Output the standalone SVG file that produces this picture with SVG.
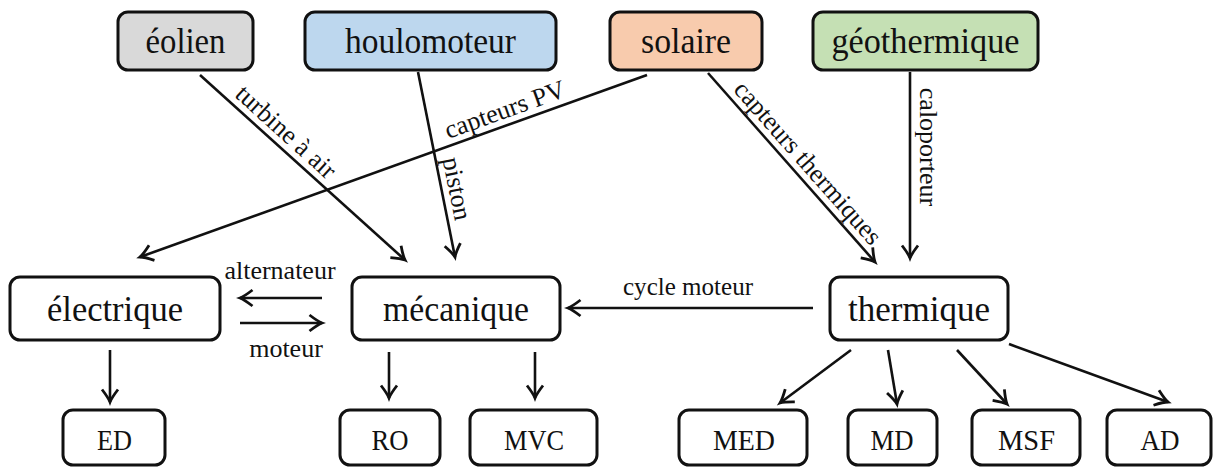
<svg xmlns="http://www.w3.org/2000/svg" width="1213" height="467" viewBox="0 0 1213 467">
<defs>
<style>
.box{stroke:#111;stroke-width:3;fill:#fff}
.nt{font-family:"Liberation Serif",serif;font-size:36px;fill:#111;text-anchor:middle}
.bt{font-family:"Liberation Serif",serif;font-size:30px;fill:#111;text-anchor:middle}
.lt{font-family:"Liberation Serif",serif;font-size:26px;fill:#111;text-anchor:middle}
.ar{stroke:#111;stroke-width:2.6;fill:none;marker-end:url(#ah)}
</style>
<marker id="ah" markerUnits="userSpaceOnUse" markerWidth="30" markerHeight="30" viewBox="-15 -15 30 30" refX="0" refY="0" orient="auto">
<path d="M-12.5,-8 Q-4,-1.5 0,0 Q-4,1.5 -12.5,8" stroke="#111" stroke-width="2.8" fill="none"/>
</marker>
</defs>
<rect width="1213" height="467" fill="#fff"/>
<g id="eolien"><rect class="box" x="118" y="12" width="135" height="58" rx="10" style="fill:#d9d9d9"/><text class="nt" x="185.5" y="53" textLength="80" lengthAdjust="spacingAndGlyphs">éolien</text></g>
<g id="houlomoteur"><rect class="box" x="305" y="12" width="251" height="58" rx="10" style="fill:#bdd7ee"/><text class="nt" x="430.5" y="53" textLength="171" lengthAdjust="spacingAndGlyphs">houlomoteur</text></g>
<g id="solaire"><rect class="box" x="610" y="12" width="152" height="58" rx="10" style="fill:#f8cbad"/><text class="nt" x="686" y="53" textLength="90" lengthAdjust="spacingAndGlyphs">solaire</text></g>
<g id="geothermique"><rect class="box" x="813" y="12" width="225" height="58" rx="10" style="fill:#c5e0b4"/><text class="nt" x="925.5" y="53" textLength="188" lengthAdjust="spacingAndGlyphs">géothermique</text></g>
<g id="electrique"><rect class="box" x="10" y="277" width="210" height="63" rx="10"/><text class="nt" x="115" y="321" textLength="136" lengthAdjust="spacingAndGlyphs">électrique</text></g>
<g id="mecanique"><rect class="box" x="352" y="277" width="208" height="63" rx="10"/><text class="nt" x="456" y="321" textLength="146" lengthAdjust="spacingAndGlyphs">mécanique</text></g>
<g id="thermique"><rect class="box" x="830" y="277" width="178" height="63" rx="10"/><text class="nt" x="919" y="321" textLength="142" lengthAdjust="spacingAndGlyphs">thermique</text></g>
<g id="ED"><rect class="box" x="63" y="410" width="102" height="55" rx="10"/><text class="bt" x="114.5" y="450" textLength="35" lengthAdjust="spacingAndGlyphs">ED</text></g>
<g id="RO"><rect class="box" x="340" y="410" width="100" height="55" rx="10"/><text class="bt" x="390" y="450" textLength="37" lengthAdjust="spacingAndGlyphs">RO</text></g>
<g id="MVC"><rect class="box" x="470" y="410" width="127" height="55" rx="10"/><text class="bt" x="534" y="450" textLength="60" lengthAdjust="spacingAndGlyphs">MVC</text></g>
<g id="MED"><rect class="box" x="679" y="410" width="128" height="55" rx="10"/><text class="bt" x="744" y="450" textLength="62" lengthAdjust="spacingAndGlyphs">MED</text></g>
<g id="MD"><rect class="box" x="848" y="410" width="89" height="55" rx="10"/><text class="bt" x="892" y="450" textLength="43" lengthAdjust="spacingAndGlyphs">MD</text></g>
<g id="MSF"><rect class="box" x="972" y="410" width="108" height="55" rx="10"/><text class="bt" x="1026.5" y="450" textLength="57" lengthAdjust="spacingAndGlyphs">MSF</text></g>
<g id="AD"><rect class="box" x="1107" y="410" width="104" height="55" rx="10"/><text class="bt" x="1160" y="450" textLength="39" lengthAdjust="spacingAndGlyphs">AD</text></g>
<g id="connectors">
<line class="ar" x1="200" y1="75" x2="405" y2="260"/>
<line class="ar" x1="418" y1="72" x2="455" y2="257"/>
<line class="ar" x1="647" y1="75" x2="140" y2="257"/>
<line class="ar" x1="708" y1="73" x2="875" y2="262"/>
<line class="ar" x1="910" y1="72" x2="910" y2="258"/>
<line class="ar" x1="322" y1="298" x2="240" y2="298"/>
<line class="ar" x1="240" y1="323" x2="322" y2="323"/>
<line class="ar" x1="813" y1="308" x2="568" y2="308"/>
<line class="ar" x1="110" y1="350" x2="110" y2="402"/>
<line class="ar" x1="389" y1="352" x2="389" y2="398"/>
<line class="ar" x1="535" y1="352" x2="535" y2="398"/>
<line class="ar" x1="851" y1="350" x2="780" y2="403"/>
<line class="ar" x1="888" y1="350" x2="897" y2="404"/>
<line class="ar" x1="957" y1="350" x2="1007" y2="404"/>
<line class="ar" x1="1009" y1="344" x2="1168" y2="402"/>
<text class="lt" transform="translate(275.7,143.3) rotate(42.06)" y="-7">turbine à air</text>
<text class="lt" transform="translate(441.9,191.6) rotate(78.7)" y="-7">piston</text>
<text class="lt" transform="translate(510,124.2) rotate(-19.75)" y="-7">capteurs PV</text>
<text class="lt" transform="translate(796.4,173.1) rotate(48.5)" y="-7">capteurs thermiques</text>
<text class="lt" transform="translate(910,147) rotate(90)" y="-10">caloporteur</text>
<text class="lt" x="280" y="279">alternateur</text>
<text class="lt" x="286" y="357">moteur</text>
<text class="lt" x="688" y="295" textLength="130" lengthAdjust="spacingAndGlyphs">cycle moteur</text>
</g>
</svg>
